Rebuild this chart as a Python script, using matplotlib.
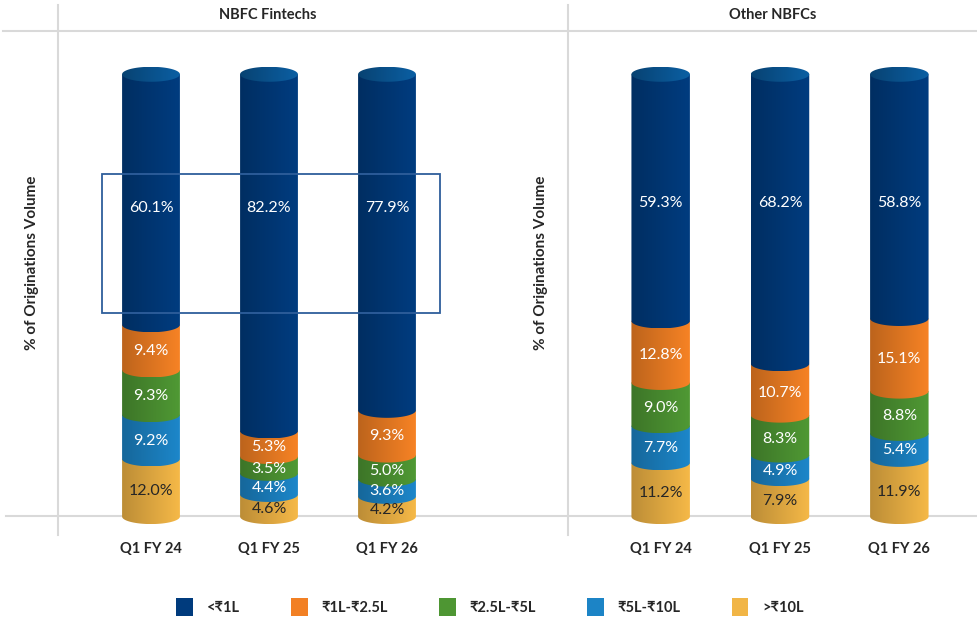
import numpy as np
import matplotlib.pyplot as plt
from matplotlib.patches import Rectangle, Patch, PathPatch
from matplotlib.path import Path
from matplotlib.lines import Line2D
from matplotlib.colors import to_rgb

plt.rcParams['font.family'] = ['Lato', 'Noto Sans', 'DejaVu Sans']

# data (% of originations volume)
quarters = ['Q1 FY 24', 'Q1 FY 25', 'Q1 FY 26']
buckets = ['<₹1L', '₹1L-₹2.5L', '₹2.5L-₹5L', '₹5L-₹10L', '>₹10L']
colors = ['#003B7D', '#F28024', '#4E9633', '#1C84C6', '#F1B546']

fintech_lt1 = [60.1, 82.2, 77.9]
fintech_1_25 = [9.4, 5.3, 9.3]
fintech_25_5 = [9.3, 3.5, 5.0]
fintech_5_10 = [9.2, 4.4, 3.6]
fintech_gt10 = [12.0, 4.6, 4.2]

other_lt1 = [59.3, 68.2, 58.8]
other_1_25 = [12.8, 10.7, 15.1]
other_25_5 = [9.0, 8.3, 8.8]
other_5_10 = [7.7, 4.9, 5.4]
other_gt10 = [11.2, 7.9, 11.9]

W, H = 978, 620
BAR_TOP = 92        # visible top of the cylinders (axis max)
BAR_W = 0.49
YMIN, YMAX = -3, 101
CAP_PX = 7.5        # half height of the ellipse caps in pixels
TXT = '#262626'

fig = plt.figure(figsize=(W / 100, H / 100), dpi=100)


def px_axes(x0, x1, y_top, y_bot):
    return fig.add_axes([x0 / W, 1 - y_bot / H, (x1 - x0) / W, (y_bot - y_top) / H])


def grad_fill(ax, path, color, x0, x1, y0, y1, z, lo=0.78, hi=1.02):
    base = np.array(to_rgb(color))
    f = np.linspace(lo, hi, 64)
    img = np.clip(base[None, :] * f[:, None], 0, 1)[None, :, :]
    patch = PathPatch(path, facecolor='none', edgecolor='none', clip_on=False)
    ax.add_patch(patch)
    im = ax.imshow(img, extent=[x0, x1, y0, y1], aspect='auto',
                   interpolation='bilinear', zorder=z)
    im.set_clip_path(patch)


def segment_path(xc, w, y0, y1, ry):
    # rectangle with a rounded (elliptic) bottom
    t = np.linspace(np.pi, 2 * np.pi, 50)
    xs = xc + w / 2 * np.cos(t)
    ys = y0 + ry * np.sin(t)
    verts = [(xc - w / 2, y1)] + list(zip(xs, ys)) + [(xc + w / 2, y1), (xc - w / 2, y1)]
    return Path(verts)


def draw_panel(ax, series, top_label_y):
    ax.set_xlim(-0.5, 2.5)
    ax.set_ylim(YMIN, YMAX)
    ry = CAP_PX * (YMAX - YMIN) / (ax.get_position().height * H)
    stack = list(zip(series[::-1], colors[::-1]))   # bottom -> top
    z = 2
    for i in range(len(quarters)):
        bottom = 0.0
        for k, (vals, col) in enumerate(stack):
            v = vals[i]
            top = bottom + v
            is_top = k == len(stack) - 1
            y1 = min(top, BAR_TOP)
            path = segment_path(i, BAR_W, bottom, y1, ry)
            grad_fill(ax, path, col, i - BAR_W / 2, i + BAR_W / 2, bottom - ry, y1, z)
            z += 1
            ty = top_label_y if is_top else bottom + v / 2 - ry * 0.5
            tc = TXT if col == colors[-1] else 'white'
            ax.text(i, ty, f'{v:.1f}%', ha='center', va='center', color=tc,
                    fontsize=11.5, zorder=200)
            bottom = top
        # top cap
        t = np.linspace(0, 2 * np.pi, 80)
        cap_path = Path(list(zip(i + BAR_W / 2 * np.cos(t), BAR_TOP + ry * np.sin(t))))
        grad_fill(ax, cap_path, '#0B5FA3', i - BAR_W / 2, i + BAR_W / 2,
                  BAR_TOP - ry, BAR_TOP + ry, z, lo=0.7, hi=1.0)
        z += 1
    ax.set_xticks(range(len(quarters)), quarters)
    ax.tick_params(axis='x', length=0, pad=8, labelsize=10.5, labelcolor=TXT)
    for lab in ax.get_xticklabels():
        lab.set_fontweight('bold')
    ax.set_yticks([])
    for s in ax.spines.values():
        s.set_visible(False)
    ax.patch.set_visible(False)


ax1 = px_axes(92, 446, 31, 531)
ax2 = px_axes(601, 959, 31, 531)

draw_panel(ax1, [fintech_lt1, fintech_1_25, fintech_25_5, fintech_5_10, fintech_gt10], 64.2)
draw_panel(ax2, [other_lt1, other_1_25, other_25_5, other_5_10, other_gt10], 65.2)

# highlight box around the <1L share of fintechs
ax1.add_patch(Rectangle((-0.415, 42.3), 2.864, 28.95, fill=False, edgecolor='#2E5E9B',
                        lw=1.3, zorder=300, clip_on=False))

# frame lines
grid_c = '#D9D9D9'
for (x0, y0, x1, y1) in [(3, 31, 978, 31), (6, 516, 978, 516),
                         (58, 5, 58, 535), (568, 5, 568, 535)]:
    fig.add_artist(Line2D([x0 / W, x1 / W], [1 - y0 / H, 1 - y1 / H],
                          transform=fig.transFigure, color=grid_c, lw=1.5, zorder=-1))

fig.text(268 / W, 1 - 15 / H, 'NBFC Fintechs', ha='center', va='center',
         fontsize=10.5, fontweight='bold', color=TXT)
fig.text(773 / W, 1 - 15 / H, 'Other NBFCs', ha='center', va='center',
         fontsize=10.5, fontweight='bold', color=TXT)
for x in (32, 541):
    fig.text(x / W, 1 - 263 / H, '% of Originations Volume', ha='center', va='center',
             rotation=90, fontsize=11, fontweight='bold', color=TXT)

handles = [Patch(facecolor=c, edgecolor='none') for c in colors]
fig.legend(handles, buckets, loc='center', bbox_to_anchor=(490 / W, 1 - 607 / H),
           ncol=5, frameon=False, handlelength=1.15, handleheight=1.6,
           handletextpad=0.95, columnspacing=3.5,
           prop={'size': 10.5, 'weight': 'bold'}, labelcolor=TXT)

fig.savefig('out.png', dpi=100)
